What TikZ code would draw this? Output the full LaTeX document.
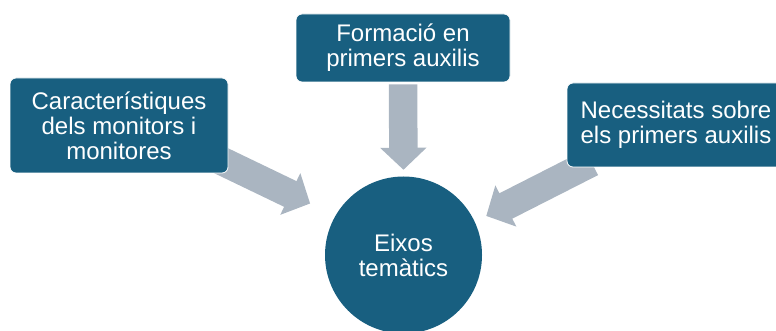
\documentclass[tikz,border=0pt]{standalone}
\usepackage{fontspec}
\setmainfont{Liberation Sans}
\usepackage{xcolor}
\usetikzlibrary{arrows.meta, backgrounds}
\definecolor{boxblue}{RGB}{24,95,128}
\definecolor{flowgray}{RGB}{170,181,193}
\tikzset{
	block/.style={draw=white, line width=0.8pt, fill=boxblue, rounded corners=6pt, text=white, align=center, font=\fontsize{24}{25}\selectfont},
	hubnode/.style={circle, fill=boxblue, text=white, align=center, inner sep=0pt, font=\fontsize{24}{25}\selectfont},
	flow/.style={draw=flowgray, line width=28.5pt, -{Triangle[length=22pt, width=45pt]}}
}

\begin{document}
\begin{tikzpicture}[x=1pt, y=-1pt]
		\clip (0,0) rectangle (776,331);
		
		% Central topic
		\node[hubnode, minimum size=157pt] (hub) at (403.5,255) {Eixos\\temàtics};
		
		% Characteristics
		\node[block, minimum width=218pt, minimum height=95pt] (feat) at (119,125.5) {Característiques\\dels monitors i\\monitores};
		
		% Training
		\node[block, minimum width=214pt, minimum height=68pt] (train) at (403,48) {Formació en\\primers auxilis};
		
		% Needs
		\node[block, minimum width=218pt, minimum height=84pt] (needs) at (676,125) {Necessitats sobre\\els primers auxilis};
		
		% Arrows
		\begin{scope}[on background layer]
			\draw[flow] ([shift={(-10,-14)}]feat.south east) -- (hub.150) [shorten >=28pt];
			\draw[flow, shorten <=2pt, shorten >=6.5pt] (train.south) -- (hub.north);
			\draw[flow, shorten >=12.8pt] ([shift={(25,-5)}]needs.south west) -- (hub.25);
		\end{scope}
	\end{tikzpicture}
\end{document}
